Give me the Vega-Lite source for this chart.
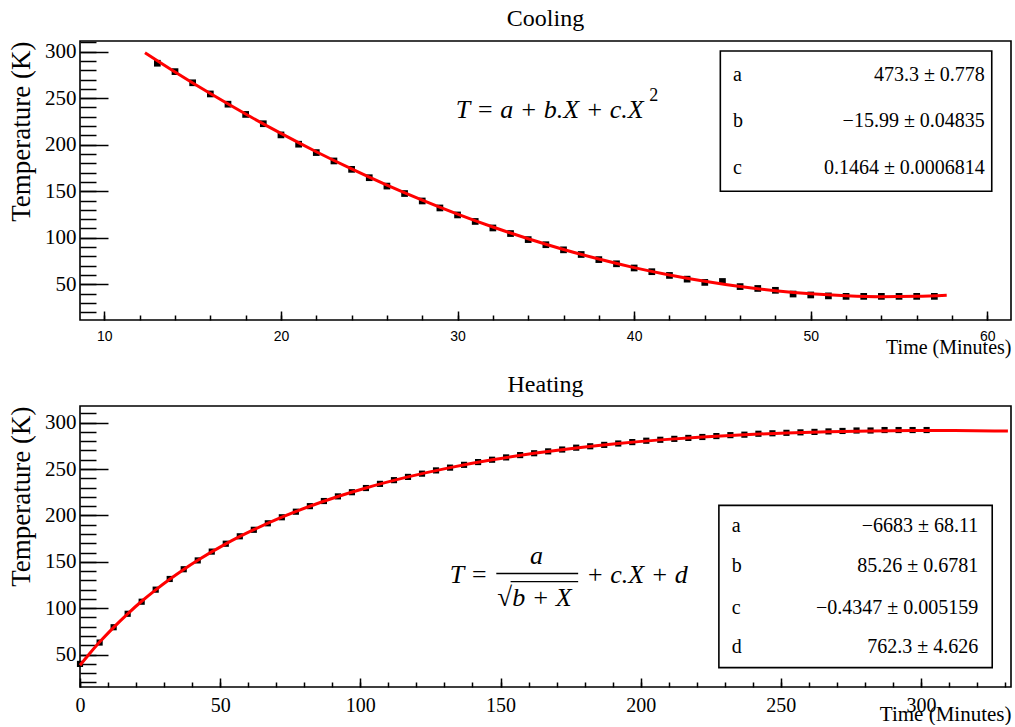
{
  "$schema": "https://vega.github.io/schema/vega-lite/v6.json",
  "padding": {"left": 6, "top": 5, "right": 0, "bottom": 0},
  "spacing": 14,
  "config": {
    "font": "Liberation Serif",
    "view": {"stroke": "black", "strokeWidth": 1.6},
    "axis": {
      "grid": false,
      "domain": false,
      "tickColor": "black",
      "tickWidth": 1.5,
      "labelColor": "black",
      "titleColor": "black",
      "labelFont": "Liberation Serif",
      "titleFont": "Liberation Serif",
      "titleFontWeight": "normal",
      "labelFlush": false,
      "labelOverlap": false
    },
    "title": {"font": "Liberation Serif", "fontWeight": "normal", "fontSize": 24, "color": "black", "frame": "group", "anchor": "middle", "offset": 10},
    "text": {"font": "Liberation Serif", "fontSize": 20, "color": "black", "baseline": "middle"}
  },
  "datasets": {
    "cooling": [
      {"t": 13, "T": 287.5}, {"t": 14, "T": 278.5}, {"t": 15, "T": 266.5}, {"t": 16, "T": 254.5},
      {"t": 17, "T": 243.5}, {"t": 18, "T": 232.5}, {"t": 19, "T": 222.5}, {"t": 20, "T": 210.5},
      {"t": 21, "T": 200.5}, {"t": 22, "T": 191.5}, {"t": 23, "T": 182.5}, {"t": 24, "T": 173.5},
      {"t": 25, "T": 164.5}, {"t": 26, "T": 155.5}, {"t": 27, "T": 147.5}, {"t": 28, "T": 139.5},
      {"t": 29, "T": 132.0}, {"t": 30, "T": 124.5}, {"t": 31, "T": 117.5}, {"t": 32, "T": 110.5},
      {"t": 33, "T": 104.5}, {"t": 34, "T": 98.0}, {"t": 35, "T": 92.5}, {"t": 36, "T": 87.0},
      {"t": 37, "T": 82.0}, {"t": 38, "T": 76.5}, {"t": 39, "T": 72.0}, {"t": 40, "T": 67.5},
      {"t": 41, "T": 63.5}, {"t": 42, "T": 59.5}, {"t": 43, "T": 55.5}, {"t": 44, "T": 52.0},
      {"t": 45, "T": 53.0}, {"t": 46, "T": 47.5}, {"t": 47, "T": 45.5}, {"t": 48, "T": 43.5},
      {"t": 49, "T": 39.5}, {"t": 50, "T": 38.5}, {"t": 51, "T": 37.5}, {"t": 52, "T": 37.0},
      {"t": 53, "T": 37.0}, {"t": 54, "T": 37.0}, {"t": 55, "T": 37.0}, {"t": 56, "T": 37.0},
      {"t": 57, "T": 37.0}
    ],
    "coolingFit": [
      {"t": 12.3, "T": 298.8}, {"t": 14, "T": 278.1}, {"t": 16, "T": 254.9}, {"t": 18, "T": 232.9},
      {"t": 20, "T": 212.1}, {"t": 22, "T": 192.4}, {"t": 24, "T": 173.9}, {"t": 26, "T": 156.5},
      {"t": 28, "T": 140.4}, {"t": 30, "T": 125.4}, {"t": 32, "T": 111.5}, {"t": 34, "T": 98.9},
      {"t": 36, "T": 87.4}, {"t": 38, "T": 77.1}, {"t": 40, "T": 67.9}, {"t": 42, "T": 60.0},
      {"t": 44, "T": 53.2}, {"t": 46, "T": 47.5}, {"t": 48, "T": 43.1}, {"t": 50, "T": 39.8},
      {"t": 52, "T": 37.7}, {"t": 54, "T": 36.7}, {"t": 56, "T": 37.0}, {"t": 57.7, "T": 38.1}
    ],
    "heating": [
      {"t": 0, "T": 40.0}, {"t": 7, "T": 63.0}, {"t": 12, "T": 79.5}, {"t": 17, "T": 94.0},
      {"t": 22, "T": 107.0}, {"t": 27, "T": 120.0}, {"t": 32, "T": 131.5}, {"t": 37, "T": 142.0},
      {"t": 42, "T": 151.5}, {"t": 47, "T": 161.0}, {"t": 52, "T": 169.5}, {"t": 57, "T": 177.5},
      {"t": 62, "T": 184.5}, {"t": 67, "T": 191.5}, {"t": 72, "T": 198.0}, {"t": 77, "T": 204.0},
      {"t": 82, "T": 210.0}, {"t": 87, "T": 215.5}, {"t": 92, "T": 220.5}, {"t": 97, "T": 225.0},
      {"t": 102, "T": 229.5}, {"t": 107, "T": 234.0}, {"t": 112, "T": 238.0}, {"t": 117, "T": 241.5},
      {"t": 122, "T": 245.0}, {"t": 127, "T": 248.5}, {"t": 132, "T": 251.5}, {"t": 137, "T": 254.5},
      {"t": 142, "T": 257.5}, {"t": 147, "T": 260.0}, {"t": 152, "T": 262.5}, {"t": 157, "T": 265.0},
      {"t": 162, "T": 267.0}, {"t": 167, "T": 269.0}, {"t": 172, "T": 271.0}, {"t": 177, "T": 273.0},
      {"t": 182, "T": 274.5}, {"t": 187, "T": 276.0}, {"t": 192, "T": 277.5}, {"t": 197, "T": 279.0},
      {"t": 202, "T": 280.5}, {"t": 207, "T": 281.5}, {"t": 212, "T": 282.5}, {"t": 217, "T": 283.5},
      {"t": 222, "T": 284.5}, {"t": 227, "T": 285.5}, {"t": 232, "T": 286.5}, {"t": 237, "T": 287.0},
      {"t": 242, "T": 288.0}, {"t": 247, "T": 288.5}, {"t": 252, "T": 289.0}, {"t": 257, "T": 289.5},
      {"t": 262, "T": 290.0}, {"t": 267, "T": 290.5}, {"t": 272, "T": 291.0}, {"t": 277, "T": 291.5},
      {"t": 282, "T": 291.5}, {"t": 287, "T": 292.0}, {"t": 292, "T": 292.0}, {"t": 297, "T": 292.0},
      {"t": 302, "T": 292.0}
    ],
    "heatingFit": [
      {"t": 0, "T": 38.5}, {"t": 3, "T": 49.6}, {"t": 7, "T": 63.5}, {"t": 12, "T": 79.4},
      {"t": 17, "T": 94.0}, {"t": 22, "T": 107.5}, {"t": 27, "T": 119.8}, {"t": 32, "T": 131.2},
      {"t": 37, "T": 141.8}, {"t": 42, "T": 151.6}, {"t": 52, "T": 169.3}, {"t": 62, "T": 184.6},
      {"t": 72, "T": 198.1}, {"t": 82, "T": 209.9}, {"t": 92, "T": 220.4}, {"t": 102, "T": 229.6},
      {"t": 117, "T": 241.5}, {"t": 132, "T": 251.5}, {"t": 147, "T": 259.9}, {"t": 162, "T": 266.9},
      {"t": 177, "T": 272.7}, {"t": 192, "T": 277.5}, {"t": 207, "T": 281.4}, {"t": 222, "T": 284.5},
      {"t": 237, "T": 287.0}, {"t": 252, "T": 288.9}, {"t": 267, "T": 290.2}, {"t": 282, "T": 291.0},
      {"t": 297, "T": 291.4}, {"t": 312, "T": 291.4}, {"t": 331, "T": 290.9}
    ]
  },
  "vconcat": [
    {
      "title": {"text": "Cooling"},
      "width": 931,
      "height": 279,
      "data": {"values": [{}]},
      "resolve": {"axis": {"x": "independent", "y": "independent"}},
      "layer": [
        {
          "data": {"name": "cooling"},
          "mark": {"type": "square", "size": 45, "color": "black", "opacity": 1},
          "encoding": {
            "x": {
              "field": "t", "type": "quantitative",
              "scale": {"domain": [8.62, 61.34], "nice": false, "zero": false},
              "axis": {"orient": "bottom", "values": [10, 20, 30, 40, 50, 60], "tickSize": -9, "labelPadding": 18,
                       "labelFont": "Liberation Sans", "labelFontSize": 14,
                       "title": "Time (Minutes)", "titleFontSize": 20, "titleAnchor": "end", "titlePadding": -6}
            },
            "y": {
              "field": "T", "type": "quantitative",
              "scale": {"domain": [11.6, 311.4], "nice": false, "zero": false},
              "axis": {"orient": "left", "values": [50, 100, 150, 200, 250, 300], "tickSize": -28, "labelPadding": 32,
                       "labelFontSize": 21, "title": "Temperature (K)", "titleFontSize": 27, "titleAnchor": "end", "titlePadding": 9}
            }
          }
        },
        {
          "data": {"name": "coolingFit"},
          "mark": {"type": "line", "color": "#ff0000", "strokeWidth": 3, "interpolate": "monotone"},
          "encoding": {
            "x": {
              "field": "t", "type": "quantitative",
              "axis": {"orient": "bottom", "values": [10, 12, 14, 16, 18, 20, 22, 24, 26, 28, 30, 32, 34, 36, 38, 40, 42, 44, 46, 48, 50, 52, 54, 56, 58, 60],
                       "tickSize": -5, "labels": false, "title": null}
            },
            "y": {
              "field": "T", "type": "quantitative",
              "axis": {"orient": "left", "values": [20, 30, 40, 50, 60, 70, 80, 90, 100, 110, 120, 130, 140, 150, 160, 170, 180, 190, 200, 210, 220, 230, 240, 250, 260, 270, 280, 290, 300, 310],
                       "tickSize": -16, "labels": false, "title": null}
            }
          }
        },
        {
          "mark": {"type": "rect", "fill": "white", "stroke": "black", "strokeWidth": 1.6},
          "encoding": {
            "x": {"datum": 44.88, "axis": null}, "x2": {"datum": 60.25},
            "y": {"datum": 300.6, "axis": null}, "y2": {"datum": 149.9}
          }
        },
        {"mark": {"type": "text", "align": "left"}, "encoding": {"x": {"datum": 45.6, "axis": null}, "y": {"datum": 274.9, "axis": null}, "text": {"value": "a"}}},
        {"mark": {"type": "text", "align": "left"}, "encoding": {"x": {"datum": 45.6, "axis": null}, "y": {"datum": 225.1, "axis": null}, "text": {"value": "b"}}},
        {"mark": {"type": "text", "align": "left"}, "encoding": {"x": {"datum": 45.6, "axis": null}, "y": {"datum": 174.6, "axis": null}, "text": {"value": "c"}}},
        {"mark": {"type": "text", "align": "right"}, "encoding": {"x": {"datum": 59.86, "axis": null}, "y": {"datum": 274.9, "axis": null}, "text": {"value": "473.3 ± 0.778"}}},
        {"mark": {"type": "text", "align": "right"}, "encoding": {"x": {"datum": 59.86, "axis": null}, "y": {"datum": 225.1, "axis": null}, "text": {"value": "−15.99 ± 0.04835"}}},
        {"mark": {"type": "text", "align": "right"}, "encoding": {"x": {"datum": 59.86, "axis": null}, "y": {"datum": 174.6, "axis": null}, "text": {"value": "0.1464 ± 0.0006814"}}},
        {"mark": {"type": "text", "align": "left", "fontStyle": "italic", "fontSize": 26}, "encoding": {"x": {"datum": 29.9, "axis": null}, "y": {"datum": 236.9, "axis": null}, "text": {"value": "T = a + b.X + c.X"}}},
        {"mark": {"type": "text", "align": "left", "fontSize": 18}, "encoding": {"x": {"datum": 40.85, "axis": null}, "y": {"datum": 252.5, "axis": null}, "text": {"value": "2"}}}
      ]
    },
    {
      "title": {"text": "Heating", "offset": 9},
      "width": 931,
      "height": 281,
      "data": {"values": [{}]},
      "resolve": {"axis": {"x": "independent", "y": "independent"}},
      "layer": [
        {
          "data": {"name": "heating"},
          "mark": {"type": "square", "size": 38, "color": "black", "opacity": 1},
          "encoding": {
            "x": {
              "field": "t", "type": "quantitative",
              "scale": {"domain": [0, 332.1], "nice": false, "zero": false},
              "axis": {"orient": "bottom", "values": [0, 50, 100, 150, 200, 250, 300], "tickSize": -9, "labelPadding": 17,
                       "labelFontSize": 20, "title": "Time (Minutes)", "titleFontSize": 21, "titleAnchor": "end", "titlePadding": -12}
            },
            "y": {
              "field": "T", "type": "quantitative",
              "scale": {"domain": [15.1, 317.9], "nice": false, "zero": false},
              "axis": {"orient": "left", "values": [50, 100, 150, 200, 250, 300], "tickSize": -28, "labelPadding": 32,
                       "labelFontSize": 21, "title": "Temperature (K)", "titleFontSize": 27, "titleAnchor": "end", "titlePadding": 9}
            }
          }
        },
        {
          "data": {"name": "heatingFit"},
          "mark": {"type": "line", "color": "#ff0000", "strokeWidth": 3, "interpolate": "monotone"},
          "encoding": {
            "x": {
              "field": "t", "type": "quantitative",
              "axis": {"orient": "bottom", "values": [0, 10, 20, 30, 40, 50, 60, 70, 80, 90, 100, 110, 120, 130, 140, 150, 160, 170, 180, 190, 200, 210, 220, 230, 240, 250, 260, 270, 280, 290, 300, 310, 320, 330],
                       "tickSize": -5, "labels": false, "title": null}
            },
            "y": {
              "field": "T", "type": "quantitative",
              "axis": {"orient": "left", "values": [20, 30, 40, 50, 60, 70, 80, 90, 100, 110, 120, 130, 140, 150, 160, 170, 180, 190, 200, 210, 220, 230, 240, 250, 260, 270, 280, 290, 300, 310],
                       "tickSize": -16, "labels": false, "title": null}
            }
          }
        },
        {
          "mark": {"type": "rect", "fill": "white", "stroke": "black", "strokeWidth": 1.6},
          "encoding": {
            "x": {"datum": 227.9, "axis": null}, "x2": {"datum": 325.4},
            "y": {"datum": 210.8, "axis": null}, "y2": {"datum": 36.0}
          }
        },
        {"mark": {"type": "text", "align": "left"}, "encoding": {"x": {"datum": 232.5, "axis": null}, "y": {"datum": 188.4, "axis": null}, "text": {"value": "a"}}},
        {"mark": {"type": "text", "align": "left"}, "encoding": {"x": {"datum": 232.5, "axis": null}, "y": {"datum": 145.3, "axis": null}, "text": {"value": "b"}}},
        {"mark": {"type": "text", "align": "left"}, "encoding": {"x": {"datum": 232.5, "axis": null}, "y": {"datum": 100.7, "axis": null}, "text": {"value": "c"}}},
        {"mark": {"type": "text", "align": "left"}, "encoding": {"x": {"datum": 232.5, "axis": null}, "y": {"datum": 58.6, "axis": null}, "text": {"value": "d"}}},
        {"mark": {"type": "text", "align": "right"}, "encoding": {"x": {"datum": 320.4, "axis": null}, "y": {"datum": 188.4, "axis": null}, "text": {"value": "−6683 ± 68.11"}}},
        {"mark": {"type": "text", "align": "right"}, "encoding": {"x": {"datum": 320.4, "axis": null}, "y": {"datum": 145.3, "axis": null}, "text": {"value": "85.26 ± 0.6781"}}},
        {"mark": {"type": "text", "align": "right"}, "encoding": {"x": {"datum": 320.4, "axis": null}, "y": {"datum": 100.7, "axis": null}, "text": {"value": "−0.4347 ± 0.005159"}}},
        {"mark": {"type": "text", "align": "right"}, "encoding": {"x": {"datum": 320.4, "axis": null}, "y": {"datum": 58.6, "axis": null}, "text": {"value": "762.3 ± 4.626"}}},
        {"mark": {"type": "text", "align": "left", "fontStyle": "italic", "fontSize": 26}, "encoding": {"x": {"datum": 131.9, "axis": null}, "y": {"datum": 136.3, "axis": null}, "text": {"value": "T ="}}},
        {"mark": {"type": "text", "align": "center", "fontStyle": "italic", "fontSize": 26}, "encoding": {"x": {"datum": 162.8, "axis": null}, "y": {"datum": 156.6, "axis": null}, "text": {"value": "a"}}},
        {"mark": {"type": "rule", "color": "black", "strokeWidth": 1.5}, "encoding": {"x": {"datum": 148.5, "axis": null}, "x2": {"datum": 177.7}, "y": {"datum": 137.4, "axis": null}}},
        {"mark": {"type": "text", "align": "left", "fontSize": 27}, "encoding": {"x": {"datum": 148.8, "axis": null}, "y": {"datum": 111.5, "axis": null}, "text": {"value": "√"}}},
        {"mark": {"type": "rule", "color": "black", "strokeWidth": 1.2}, "encoding": {"x": {"datum": 153.6, "axis": null}, "x2": {"datum": 177.7}, "y": {"datum": 128.6, "axis": null}}},
        {"mark": {"type": "text", "align": "left", "fontStyle": "italic", "fontSize": 26}, "encoding": {"x": {"datum": 154.2, "axis": null}, "y": {"datum": 111.5, "axis": null}, "text": {"value": "b + X"}}},
        {"mark": {"type": "text", "align": "left", "fontStyle": "italic", "fontSize": 26}, "encoding": {"x": {"datum": 180.6, "axis": null}, "y": {"datum": 136.3, "axis": null}, "text": {"value": "+ c.X + d"}}}
      ]
    }
  ]
}
